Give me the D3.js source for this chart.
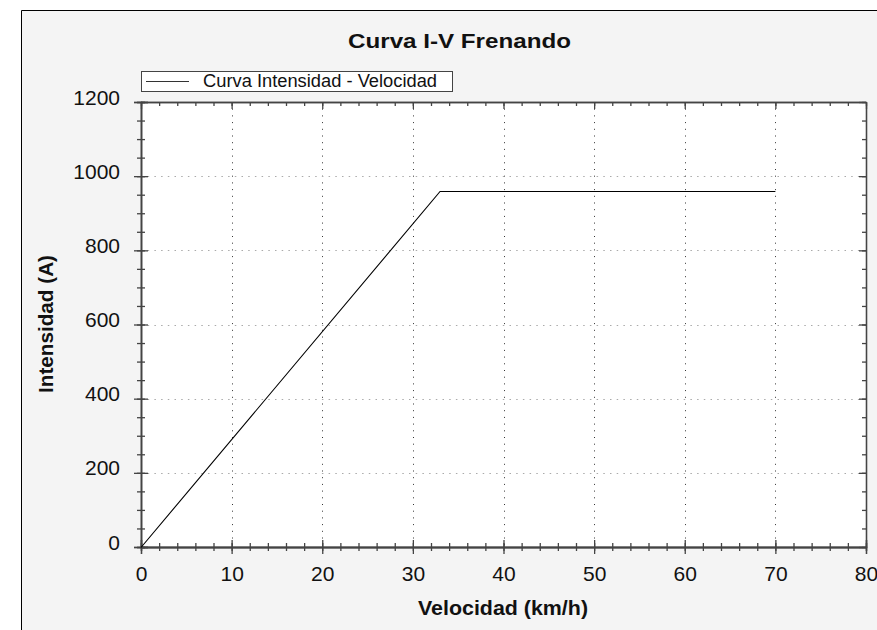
<!DOCTYPE html>
<html>
<head>
<meta charset="utf-8">
<script src="https://cdn.jsdelivr.net/npm/d3@7"></script>
<style>
	body { margin: 0; background: #fff; }
	svg text { font-family: "Liberation Sans", Arial, sans-serif; }
</style>
</head>
<body>
<div id="chart"></div>
<script>
// datos de la curva
var velocidad = [0, 33, 70];
var intensidad = [0, 960, 960];

var xTicks = [0, 10, 20, 30, 40, 50, 60, 70, 80];
var yTicks = [0, 200, 400, 600, 800, 1000, 1200];
var xMinor = d3.range(0, 81, 2);
var yMinor = d3.range(0, 1201, 50);

var titulo = "Curva I-V Frenando";
var tituloX = "Velocidad (km/h)";
var tituloY = "Intensidad (A)";
var leyenda = "Curva Intensidad - Velocidad";

(function() {
	var width = 877,
		height = 630;

	var left = 141, right = 866, top = 102, bottom = 547;

	var svg = d3.select("#chart")
		.append("svg")
		.attr("width", width)
		.attr("height", height);

	// fondo del panel
	svg.append("rect")
		.attr("x", 21).attr("y", 11)
		.attr("width", width - 21).attr("height", height - 11)
		.attr("fill", "#f4f4f4");
	svg.append("path")
		.attr("d", "M21.5," + height + "V10.5H" + width)
		.attr("fill", "none")
		.attr("stroke", "#000")
		.attr("stroke-width", 1);

	// area de trazado
	svg.append("rect")
		.attr("x", left).attr("y", top)
		.attr("width", right - left).attr("height", bottom - top)
		.attr("fill", "#fff");

	var x = d3.scaleLinear().domain([0, 80]).range([left, right]);
	var y = d3.scaleLinear().domain([0, 1200]).range([bottom, top]);

	// rejilla
	svg.append("g")
		.selectAll("line")
		.data(xTicks.slice(1, -1))
		.enter().append("line")
		.attr("x1", function(d) { return Math.round(x(d)) + 0.5; })
		.attr("x2", function(d) { return Math.round(x(d)) + 0.5; })
		.attr("y1", top).attr("y2", bottom)
		.attr("stroke", "#333")
		.attr("stroke-dasharray", "1,5.7");

	svg.append("g")
		.selectAll("line")
		.data(yTicks.slice(1, -1))
		.enter().append("line")
		.attr("y1", function(d) { return Math.round(y(d)) + 0.5; })
		.attr("y2", function(d) { return Math.round(y(d)) + 0.5; })
		.attr("x1", left).attr("x2", right)
		.attr("stroke", "#aaa")
		.attr("stroke-dasharray", "1.5,5.2");

	function ejes(g) {
		g.selectAll(".domain").attr("stroke", "#444").attr("stroke-width", 1.3);
		g.selectAll(".tick line").attr("stroke", "#444").attr("stroke-width", 1.3);
		g.selectAll(".tick text").attr("fill", "#111").style("font-size", "21px");
	}

	// eje inferior: marcas que cruzan la linea
	svg.append("g").attr("transform", "translate(0," + bottom + ")")
		.call(d3.axisBottom(x).tickValues(xMinor).tickSize(4).tickFormat("")).call(ejes);
	svg.append("g").attr("transform", "translate(0," + bottom + ")")
		.call(d3.axisTop(x).tickValues(xMinor).tickSize(4).tickFormat("")).call(ejes);
	svg.append("g").attr("transform", "translate(0," + bottom + ")")
		.call(d3.axisTop(x).tickValues(xTicks).tickSize(7).tickFormat("")).call(ejes);
	svg.append("g").attr("transform", "translate(0," + bottom + ")")
		.call(d3.axisBottom(x).tickValues(xTicks).tickSize(7).tickPadding(12).tickFormat(d3.format("d")))
		.call(ejes);

	// eje izquierdo
	svg.append("g").attr("transform", "translate(" + left + ",0)")
		.call(d3.axisLeft(y).tickValues(yMinor).tickSize(4).tickFormat("")).call(ejes);
	svg.append("g").attr("transform", "translate(" + left + ",0)")
		.call(d3.axisRight(y).tickValues(yMinor).tickSize(4).tickFormat("")).call(ejes);
	svg.append("g").attr("transform", "translate(" + left + ",0)")
		.call(d3.axisRight(y).tickValues(yTicks).tickSize(7).tickFormat("")).call(ejes);
	svg.append("g").attr("transform", "translate(" + left + ",0)")
		.call(d3.axisLeft(y).tickValues(yTicks).tickSize(7).tickPadding(14).tickFormat(d3.format("d")))
		.call(ejes)
		.selectAll(".tick text").attr("dy", "0.1em");

	// ejes superior y derecho, marcas hacia dentro
	svg.append("g").attr("transform", "translate(0," + top + ")")
		.call(d3.axisBottom(x).tickValues(xMinor).tickSize(4).tickSizeOuter(0).tickFormat("")).call(ejes);
	svg.append("g").attr("transform", "translate(0," + top + ")")
		.call(d3.axisBottom(x).tickValues(xTicks).tickSize(7).tickSizeOuter(0).tickFormat("")).call(ejes);
	svg.append("g").attr("transform", "translate(" + right + ",0)")
		.call(d3.axisLeft(y).tickValues(yMinor).tickSize(4).tickSizeOuter(0).tickFormat("")).call(ejes);
	svg.append("g").attr("transform", "translate(" + right + ",0)")
		.call(d3.axisLeft(y).tickValues(yTicks).tickSize(7).tickSizeOuter(0).tickFormat("")).call(ejes);

	// curva
	var puntos = velocidad.map(function(v, i) { return [v, intensidad[i]]; });
	var linea = d3.line()
		.x(function(d) { return x(d[0]); })
		.y(function(d) { return Math.round(y(d[1])) + 0.5; });

	svg.append("path")
		.datum(puntos)
		.attr("d", linea)
		.attr("fill", "none")
		.attr("stroke", "#000")
		.attr("stroke-width", 1.1);

	// titulos
	svg.append("text")
		.attr("x", 459.5).attr("y", 48)
		.attr("text-anchor", "middle")
		.attr("font-weight", "bold")
		.attr("textLength", 223).attr("lengthAdjust", "spacingAndGlyphs")
		.style("font-size", "21px")
		.attr("fill", "#111")
		.text(titulo);

	svg.append("text")
		.attr("x", 503).attr("y", 615)
		.attr("text-anchor", "middle")
		.attr("font-weight", "bold")
		.attr("textLength", 170).attr("lengthAdjust", "spacingAndGlyphs")
		.style("font-size", "19.5px")
		.attr("fill", "#111")
		.text(tituloX);

	svg.append("text")
		.attr("transform", "translate(53,324) rotate(-90)")
		.attr("text-anchor", "middle")
		.attr("font-weight", "bold")
		.attr("textLength", 138).attr("lengthAdjust", "spacingAndGlyphs")
		.style("font-size", "19.5px")
		.attr("fill", "#111")
		.text(tituloY);

	// leyenda
	var ley = svg.append("g");
	ley.append("rect")
		.attr("x", 141.5).attr("y", 71.5)
		.attr("width", 311).attr("height", 20)
		.attr("fill", "#fff")
		.attr("stroke", "#444");
	ley.append("line")
		.attr("x1", 146).attr("x2", 189)
		.attr("y1", 81.5).attr("y2", 81.5)
		.attr("stroke", "#333");
	ley.append("text")
		.attr("x", 203).attr("y", 87)
		.attr("textLength", 234).attr("lengthAdjust", "spacingAndGlyphs")
		.style("font-size", "17.5px")
		.attr("fill", "#111")
		.text(leyenda);
})();
</script>
</body>
</html>
